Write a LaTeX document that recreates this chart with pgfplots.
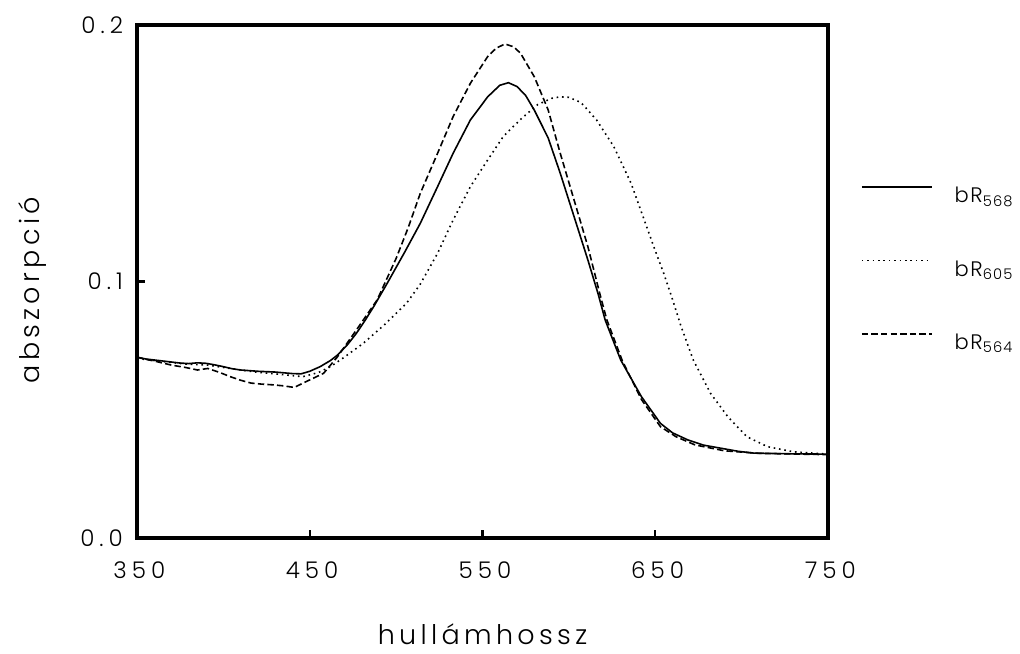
\documentclass[border=0pt]{standalone}
\usepackage{fontspec}
\setmainfont{Poppins Light}
\newfontfamily\tickfont{Poppins Light}[LetterSpace=22]
\newfontfamily\labfont{Poppins Light}[LetterSpace=16]
\newfontfamily\legfont{Poppins Light}[LetterSpace=8]
\usepackage{pgfplots}
\pgfplotsset{compat=1.18}
\begin{document}
\begin{tikzpicture}
\path[use as bounding box] (-68.5pt,-57.5pt) rectangle (441.5pt,269pt);
\begin{axis}[
  name=ax, at={(0,0)}, anchor=south west,
  scale only axis, width=345.5pt, height=256.5pt,
  xmin=350, xmax=750, ymin=0, ymax=0.2,
  axis line style={line width=1.8pt},
  xtick={350,450,550,650,750},
  xticklabels={350,450,550,650,750},
  ytick={0,0.1,0.2},
  yticklabels={0.0,0.1,0.2},
  xtick pos=bottom, ytick pos=left, tick align=inside,
  major tick length=4pt,
  tick style={line width=1.2pt, black},
  tick label style={font=\tickfont\fontsize{11.5}{13}\selectfont},
  xticklabel style={yshift=-8.5pt, xshift=1.2pt},
  yticklabel style={xshift=-3.5pt},
  xlabel={hullámhossz},
  ylabel={abszorpció},
  label style={font=\labfont\fontsize{13.5}{15}\selectfont, inner sep=0pt},
  xlabel style={at={(axis description cs:0.5,-0.2085)}, anchor=base},
  ylabel style={at={(axis description cs:-0.1404,0.483)}, anchor=base, rotate=0},
  legend style={draw=none, fill=none, inner sep=0pt, outer sep=0pt,
    at={(1.0478,0.5206)}, anchor=west,
    row sep=25.5pt, column sep=11pt,
    font=\legfont\fontsize{10.5}{12}\selectfont,
    nodes={inner sep=0pt, text height=8pt, text depth=3pt}},
  legend cell align=left,
  legend image code/.code={\draw[#1] (0pt,5.3pt) -- (35pt,5.3pt);},
]
\addplot[black, line width=0.8pt] coordinates {
(350,0.0705)(355,0.0698)(360,0.0694)(365,0.0690)(370,0.0686)(375,0.0682)(380,0.0680)
(385,0.0683)(390,0.0681)(395,0.0675)(400,0.0668)(405,0.0660)(410,0.0655)(420,0.0650)
(430,0.0647)(440,0.0641)(445,0.0640)(450,0.0650)(456,0.0668)(462,0.0692)(466,0.0713)
(472,0.0755)(477,0.0798)(482,0.0848)(487,0.0902)(495,0.0995)(505,0.1115)(514,0.1227)
(524,0.1370)(533,0.1500)(543,0.1630)(553,0.1720)(560,0.1765)(565,0.1775)(570,0.1760)
(575,0.1725)(580,0.1668)(588,0.1560)(595,0.1422)(603,0.1253)(611,0.1084)(617,0.0950)
(621,0.0850)(630,0.0694)(642,0.0551)(653,0.0447)(660,0.0410)(669,0.0382)(678,0.0362)
(688,0.0350)(698,0.0338)(707,0.0331)(730,0.0328)(750,0.0327)};
\addlegendentry{bR\textsubscript{568}}
\addplot[black, line width=0.8pt, dash pattern=on 0.8pt off 1.9pt] coordinates {
(350,0.0700)(360,0.0692)(370,0.0684)(380,0.0677)(390,0.0675)(400,0.0665)(410,0.0655)
(420,0.0646)(430,0.0640)(440,0.0633)(446,0.0629)(455,0.0645)(462,0.0668)(470,0.0705)
(481,0.0759)(493,0.0830)(506,0.0915)(514,0.0990)(524,0.1110)(533,0.1240)(543,0.1370)
(553,0.1474)(562,0.1565)(572,0.1632)(582,0.1690)(590,0.1714)(595,0.1720)(600,0.1718)
(607,0.1698)(616,0.1630)(626,0.1526)(636,0.1383)(645,0.1214)(650,0.1120)(655,0.1030)
(660,0.0930)(665,0.0824)(672,0.0694)(682,0.0564)(692,0.0473)(703,0.0395)(715,0.0356)
(730,0.0336)(750,0.0327)};
\addlegendentry{bR\textsubscript{605}}
\addplot[black, line width=0.8pt, dash pattern=on 3.2pt off 1.6pt] coordinates {
(350,0.0705)(355,0.0697)(360,0.0690)(365,0.0682)(370,0.0674)(378,0.0665)(385,0.0655)
(391,0.0661)(398,0.0645)(404,0.0629)(410,0.0615)(416,0.0604)(422,0.0600)(429,0.0597)
(435,0.0593)(441,0.0587)(448,0.0610)(458,0.0642)(466,0.0706)(477,0.0811)(489,0.0928)
(500,0.1090)(507,0.1210)(514,0.1344)(524,0.1500)(533,0.1643)(543,0.1773)(553,0.1877)
(558,0.1910)(563,0.1926)(568,0.1915)(572,0.1890)(580,0.1798)(588,0.1669)(595,0.1500)
(603,0.1318)(611,0.1136)(618,0.0950)(622,0.0850)(631,0.0690)(642,0.0540)(653,0.0434)
(662,0.0395)(673,0.0363)(690,0.0340)(710,0.0330)(750,0.0325)};
\addlegendentry{bR\textsubscript{564}}
\end{axis}
\end{tikzpicture}
\end{document}
